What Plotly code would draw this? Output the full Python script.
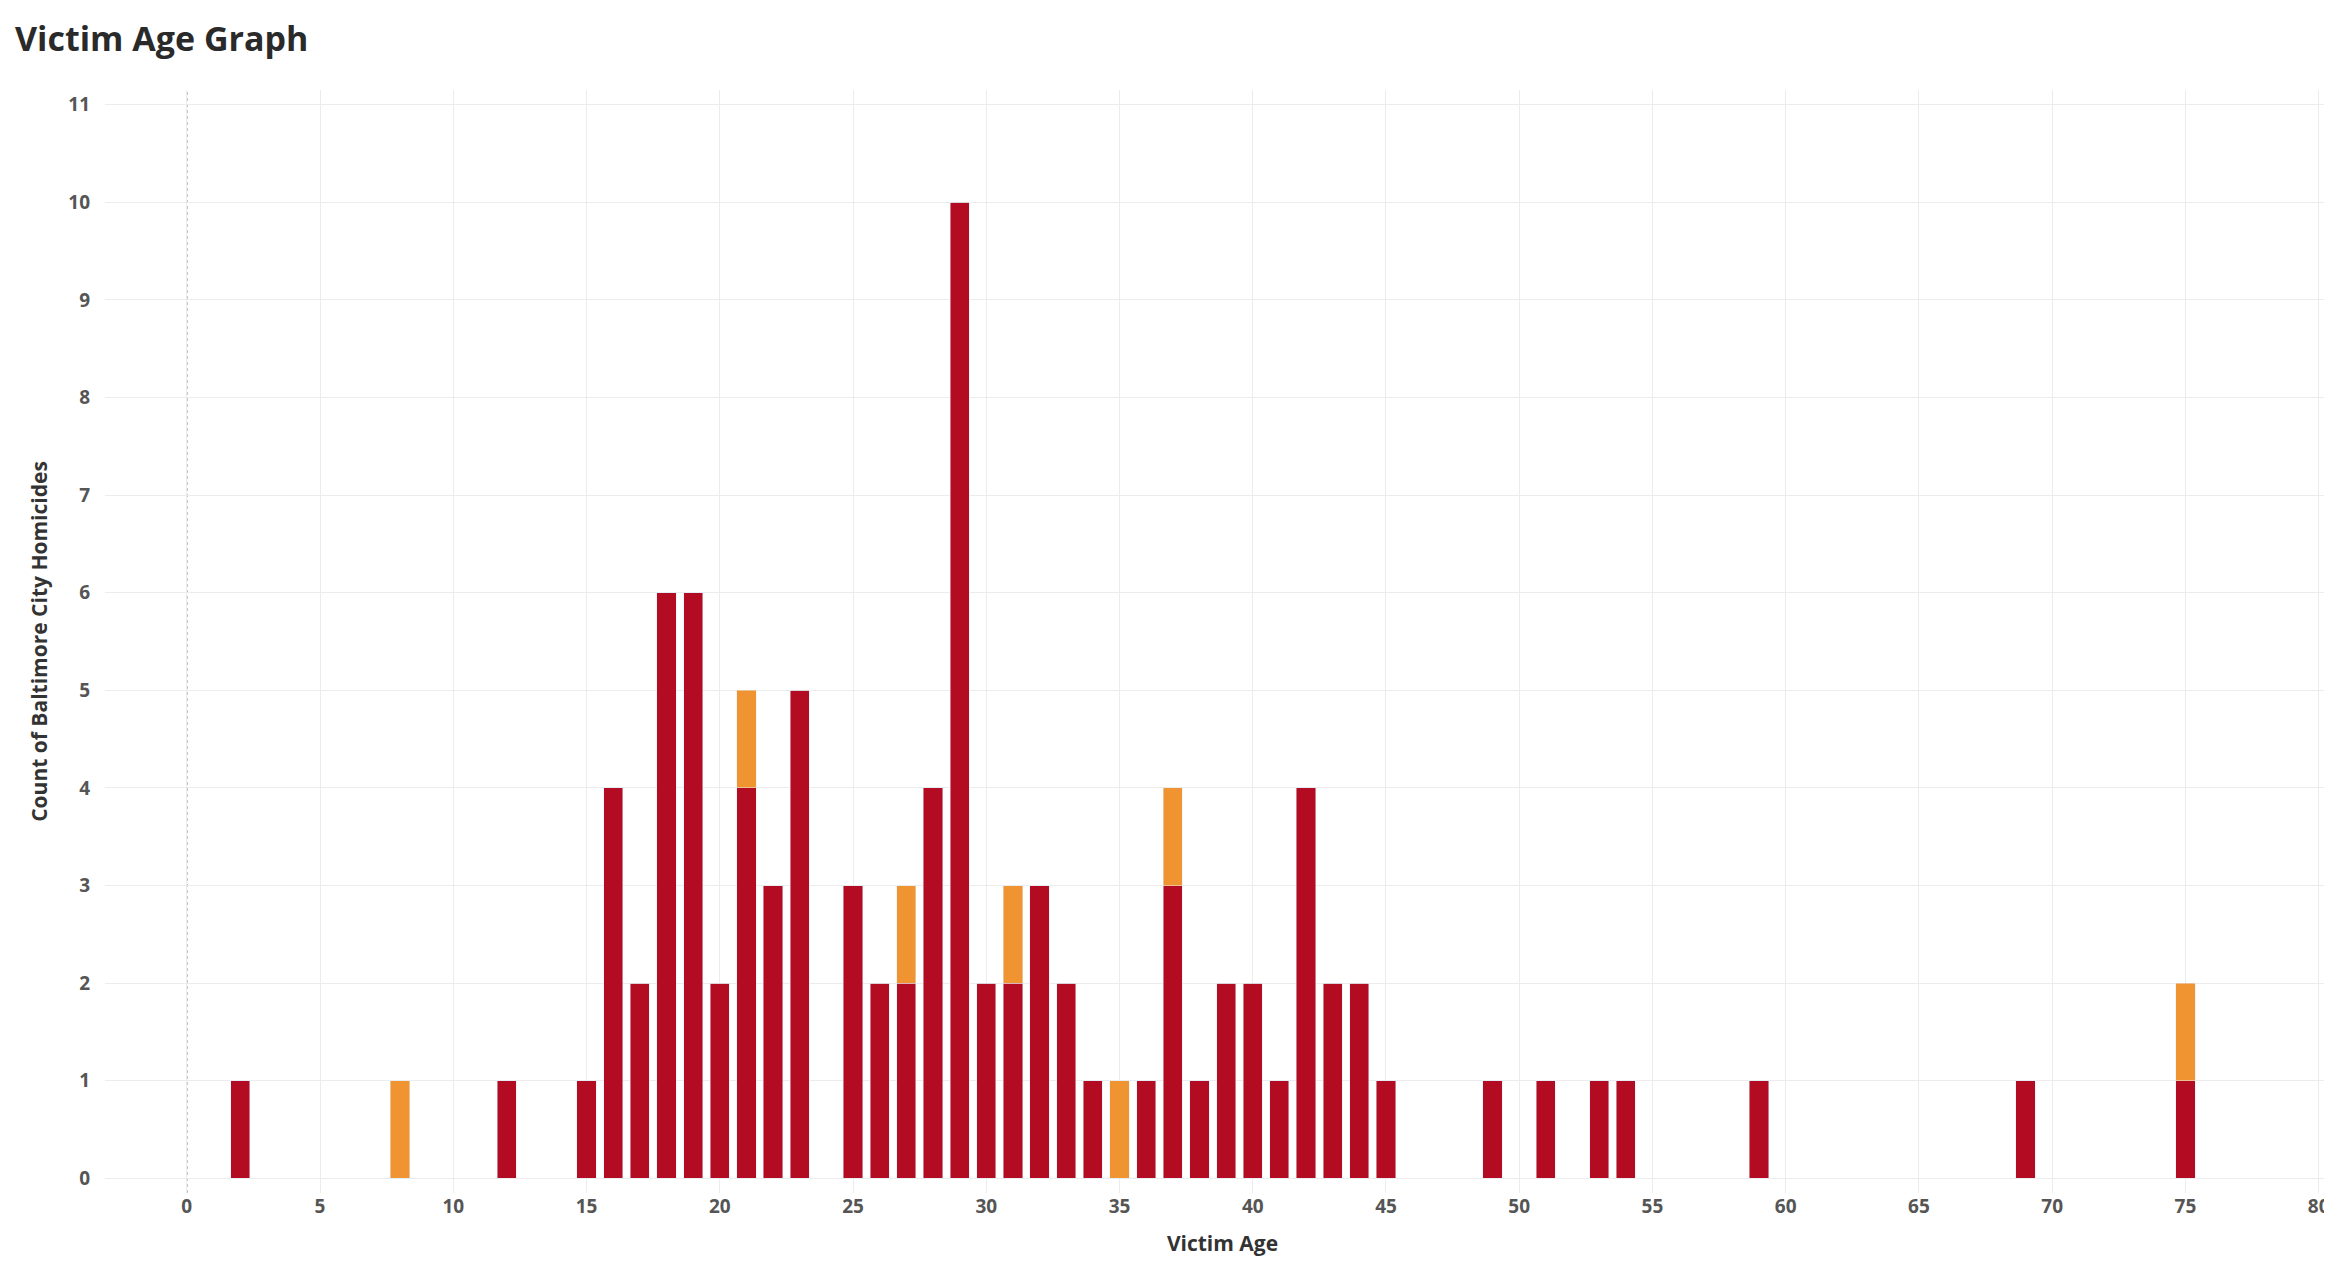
import plotly.graph_objects as go

ages = [2,8,12,15,16,17,18,19,20,21,22,23,25,26,27,28,29,30,31,32,33,34,35,36,37,38,39,40,41,42,43,44,45,49,51,53,54,59,69,75]
red = [1,0,1,1,4,2,6,6,2,4,3,5,3,2,2,4,10,2,2,3,2,1,0,1,3,1,2,2,1,4,2,2,1,1,1,1,1,1,1,1]
orange = [0,1,0,0,0,0,0,0,0,1,0,0,0,0,1,0,0,0,1,0,0,0,1,0,1,0,0,0,0,0,0,0,0,0,0,0,0,0,0,1]

fig = go.Figure()
fig.add_bar(x=ages, y=red, marker_color="#b30b21", width=0.72, showlegend=False)
fig.add_bar(x=ages, y=orange, marker_color="#ef9430", width=0.72, showlegend=False)

tickfont = dict(family="Open Sans", size=19, color="#555555", weight="bold")
fig.update_layout(
    barmode="stack", width=2332, height=1288,
    plot_bgcolor="white", paper_bgcolor="white",
    margin=dict(l=97, r=0, t=82, b=103),
    title=dict(text="<b>Victim Age Graph</b>", x=0.003, xanchor="left", y=0.985, yanchor="top",
               font=dict(family="Open Sans", size=34, color="#2a2a2a")),
    xaxis=dict(range=[-3.07, 80.8], tickvals=list(range(0, 81, 5)), showgrid=True,
               gridcolor="#ececec", zeroline=False, tickfont=tickfont, ticks="",
               title=dict(text="<b>Victim Age</b>", font=dict(family="Open Sans", size=21, color="#333"), standoff=18)),
    yaxis=dict(range=[-0.15, 11.15], tickvals=list(range(0, 12)), showgrid=True,
               gridcolor="#ececec", zeroline=False, tickfont=tickfont, ticks="", ticklabelstandoff=14,
               title=dict(text="<b>Count of Baltimore City Homicides</b>", font=dict(family="Open Sans", size=21, color="#333"), standoff=14)),
)
fig.add_shape(type="line", x0=0, x1=0, y0=0, y1=1, yref="paper", xref="x",
              line=dict(color="#999", width=1.5, dash="dot"), layer="below")
fig.write_html("out.html")
